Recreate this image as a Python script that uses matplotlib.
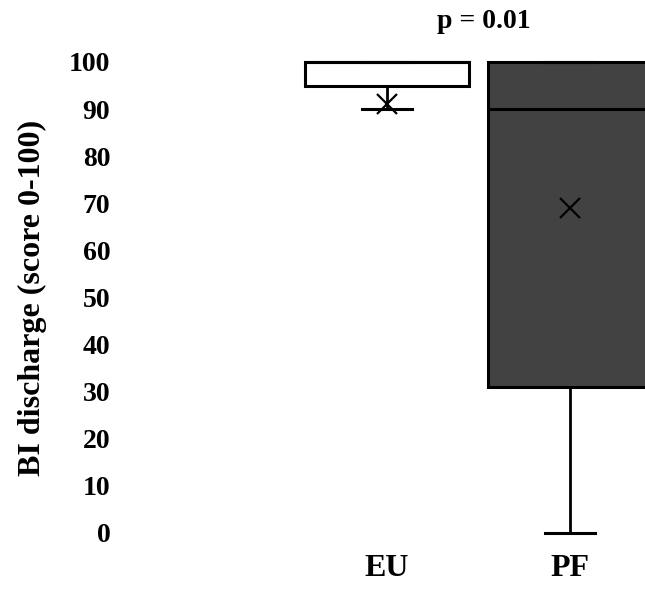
import matplotlib
matplotlib.use("Agg")
import matplotlib.pyplot as plt

groups = ["EU", "PF"]
whislo = [90, 0]
q1 = [95, 31]
med = [100, 90]
q3 = [100, 100]
whishi = [100, 100]
means = [91, 69]
yticks = [0, 10, 20, 30, 40, 50, 60, 70, 80, 90, 100]
box_colors = ["white", "#424242"]

plt.rcParams["font.family"] = ["Liberation Serif", "DejaVu Serif"]
plt.rcParams["font.weight"] = "bold"

W, H = 645, 591
fig = plt.figure(figsize=(W / 100, H / 100), dpi=100)
pxu = 183.0
left_px = 120
ax_left = left_px / W
xlo = 1 - (387 - left_px) / pxu
xhi = 2 + (645 - 570) / pxu
yppu = 4.71
ylo, yhi = -2, 102
bottom_px = 533 + 2 * yppu
top_px = 62 - 2 * yppu
ax = fig.add_axes([ax_left, (H - bottom_px) / H, 1 - ax_left, (bottom_px - top_px) / H])

stats = []
for i, g in enumerate(groups):
    stats.append(dict(label=g, whislo=whislo[i], q1=q1[i], med=med[i], q3=q3[i],
                      whishi=whishi[i], mean=means[i], fliers=[]))

bp = ax.bxp(stats, positions=[1, 2], widths=0.9, capwidths=0.27, patch_artist=True,
            showmeans=True, showfliers=False,
            boxprops=dict(linewidth=2.2, edgecolor="black"),
            medianprops=dict(color="black", linewidth=2.2),
            whiskerprops=dict(color="black", linewidth=2),
            capprops=dict(color="black", linewidth=2.2),
            meanprops=dict(marker="x", markeredgecolor="black", markersize=14, markeredgewidth=1.6))
for patch, c in zip(bp["boxes"], box_colors):
    patch.set_facecolor(c)

ax.set_xlim(xlo, xhi)
ax.set_ylim(ylo, yhi)
ax.set_yticks(yticks)
ax.set_yticklabels([str(v) for v in yticks], fontsize=20, fontweight="bold")
ax.set_xticks([1, 2])
ax.set_xticklabels(groups, fontsize=23, fontweight="bold")
ax.tick_params(axis="both", length=0)
ax.tick_params(axis="y", pad=7)
ax.tick_params(axis="x", pad=8.5)
for s in ax.spines.values():
    s.set_visible(False)
ax.set_ylabel("BI discharge (score 0-100)", fontsize=23, fontweight="bold", labelpad=16)
fig.text(484 / W, 1 - 22 / H, "p = 0.01", ha="center", va="center", fontsize=20, fontweight="bold")
for line in bp["boxes"] + bp["medians"] + bp["caps"] + bp["whiskers"]:
    line.set_clip_on(False)

fig.savefig("out.png", dpi=100, facecolor="white")
